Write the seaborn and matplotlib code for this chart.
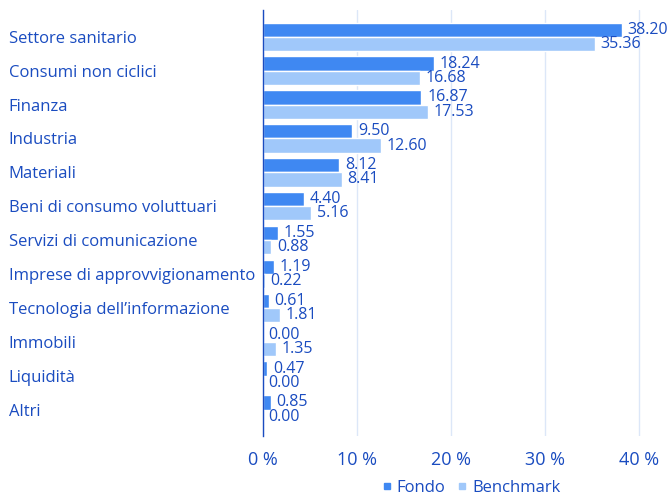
import pandas as pd
import matplotlib.pyplot as plt
import seaborn as sns
from matplotlib.lines import Line2D

# Data
categories = ['Settore sanitario', 'Consumi non ciclici', 'Finanza', 'Industria', 'Materiali',
              'Beni di consumo voluttuari', 'Servizi di comunicazione',
              'Imprese di approvvigionamento', 'Tecnologia dell\u2019informazione',
              'Immobili', 'Liquidità', 'Altri']
fondo = [38.20, 18.24, 16.87, 9.50, 8.12, 4.40, 1.55, 1.19, 0.61, 0.00, 0.47, 0.85]
benchmark = [35.36, 16.68, 17.53, 12.60, 8.41, 5.16, 0.88, 0.22, 1.81, 1.35, 0.00, 0.00]
series = ['Fondo', 'Benchmark']
x_ticks = [0, 10, 20, 30, 40]

df = pd.DataFrame({
    'Settore': categories * 2,
    'Serie': ['Fondo'] * len(categories) + ['Benchmark'] * len(categories),
    'Peso': fondo + benchmark,
})

text_col = '#1a4cc0'
colors = {'Fondo': '#3f88f2', 'Benchmark': '#a0c8fa'}

sns.set_style('white')
plt.rcParams['font.family'] = ['Open Sans', 'DejaVu Sans']

fig = plt.figure(figsize=(6.72, 4.98), dpi=100)
ax = fig.add_axes([263 / 672, 62 / 498, (667 - 263) / 672, 426 / 498])

sns.barplot(data=df, y='Settore', x='Peso', hue='Serie', hue_order=series,
            palette=colors, orient='h', width=0.84, ax=ax, legend=False,
            saturation=1)

for cont in ax.containers:
    ax.bar_label(cont, fmt='%.2f', padding=4, color=text_col, fontsize=11.5)

ax.set_xlim(0, 43)
ax.set_ylim(11.78, -0.79)
ax.set_xticks(x_ticks)
ax.set_xticklabels([f'{t} %' for t in x_ticks], color=text_col, fontsize=13)
ax.tick_params(axis='x', length=0, pad=11)
ax.tick_params(axis='y', length=0, pad=183)
for lbl in ax.get_yticklabels():
    lbl.set_ha('left')
    lbl.set_color(text_col)
    lbl.set_fontsize(12)

ax.xaxis.grid(True, color='#dce7f8', linewidth=1)
ax.set_axisbelow(True)
ax.set_xlabel('')
ax.set_ylabel('')
for s in ['top', 'right', 'bottom']:
    ax.spines[s].set_visible(False)
ax.spines['left'].set_color('#1a4cc0')
ax.spines['left'].set_linewidth(1)

handles = [Line2D([], [], marker='s', linestyle='', markersize=4,
                  color=colors[s]) for s in series]
fig.legend(handles, series, loc='center', bbox_to_anchor=(470 / 672, 1 - 488 / 498),
           ncol=2, frameon=False, fontsize=12, labelcolor=text_col,
           handletextpad=0.2, columnspacing=0.6, handlelength=0.8)

fig.savefig('out.png', dpi=100)
